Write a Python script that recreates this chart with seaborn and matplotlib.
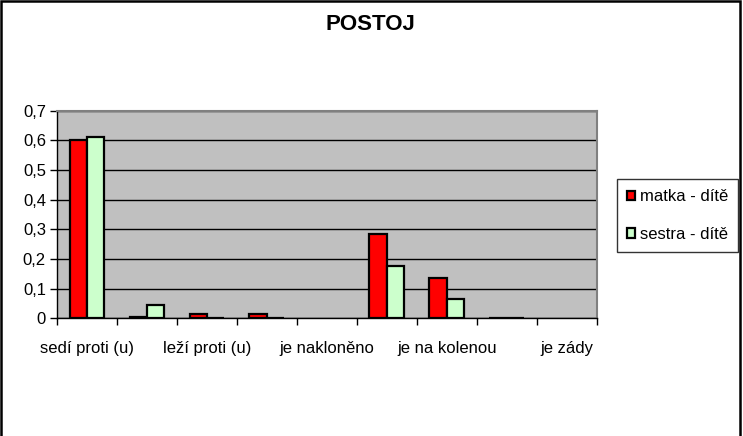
import pandas as pd
import matplotlib
matplotlib.use("Agg")
import matplotlib.pyplot as plt
from matplotlib.patches import Rectangle, Patch
from matplotlib.ticker import FuncFormatter, MultipleLocator
import seaborn as sns

# Data
categories = ["sedí proti (u)", "", "leží proti (u)", "", "je nakloněno", "",
              "je na kolenou", "", "je zády"]
matka = [0.60, 0.005, 0.015, 0.015, 0.0, 0.285, 0.135, 0.002, 0.0]
sestra = [0.61, 0.046, 0.001, 0.001, 0.0, 0.175, 0.066, 0.002, 0.0]
series_names = ["matka - dítě", "sestra - dítě"]
colors = ["#FF0000", "#CCFFCC"]

# Long format table for seaborn
df = pd.DataFrame({
    "pos": list(range(len(categories))) * 2,
    "value": matka + sestra,
    "series": [series_names[0]] * len(matka) + [series_names[1]] * len(sestra),
})

sns.set_style("white")
plt.rcParams["font.family"] = ["Liberation Sans", "DejaVu Sans"]
plt.rcParams["text.color"] = "black"
plt.rcParams["xtick.color"] = "black"
plt.rcParams["ytick.color"] = "black"

fig = plt.figure(figsize=(7.43, 4.36), dpi=100)
ax = fig.add_axes([57 / 743, 1 - 318.3 / 436, (596.7 - 57) / 743, (318.3 - 110.7) / 436])

sns.barplot(data=df, x="pos", y="value", hue="series", hue_order=series_names,
            palette=colors, width=0.58, edgecolor="black", linewidth=1.6,
            saturation=1, ax=ax, legend=False)

# zero bars draw nothing in the original
for p in ax.patches:
    if p.get_height() == 0:
        p.set_linewidth(0)

ax.set_facecolor("#C0C0C0")
ax.set_xlim(-0.5, len(categories) - 0.5)
ax.set_ylim(0, 0.7)
ax.yaxis.set_major_locator(MultipleLocator(0.1))
ax.yaxis.set_major_formatter(FuncFormatter(lambda v, _: "0" if abs(v) < 1e-9 else f"{v:.1f}".replace(".", ",")))
ax.grid(axis="y", color="black", linewidth=1)
ax.set_axisbelow(True)

# category labels at centres, tick marks at the boundaries
ax.set_xticks(range(len(categories)))
ax.set_xticklabels(categories)
ax.tick_params(axis="x", length=0, pad=16, labelsize=12, labelcolor="black")
ax.set_xticks([i - 0.5 for i in range(len(categories) + 1)], minor=True)
ax.tick_params(axis="x", which="minor", length=5, width=1, color="black", direction="out", bottom=True)
ax.tick_params(axis="y", length=5, width=1, color="black", direction="out", left=True, pad=3,
               labelsize=12, labelcolor="black")
ax.set_xlabel("")
ax.set_ylabel("")

for side in ["left", "bottom"]:
    ax.spines[side].set_color("black")
    ax.spines[side].set_linewidth(1)
for side in ["top", "right"]:
    ax.spines[side].set_color("#808080")
    ax.spines[side].set_linewidth(1.5)

handles = [Patch(facecolor=c, edgecolor="black", linewidth=1.6) for c in colors]
leg = fig.legend(handles, series_names, loc="center left",
                 bbox_to_anchor=(617 / 743, 1 - 249 / 436, (738 - 617) / 743, (249 - 182) / 436),
                 mode="expand", frameon=True, fancybox=False, fontsize=12,
                 handlelength=0.5, handleheight=0.5, handletextpad=0.3,
                 labelspacing=1.35, borderpad=0.6, borderaxespad=0, labelcolor="black")
leg.get_frame().set_edgecolor("black")
leg.get_frame().set_linewidth(1)

fig.suptitle("POSTOJ", x=370 / 743, y=1 - 24 / 436, va="center", fontsize=16,
             fontweight="bold", color="black")

# outer chart border
fig.patches.append(Rectangle((1 / 743, -0.05), 739 / 743, 1.05 - 1 / 436,
                             transform=fig.transFigure, fill=False,
                             edgecolor="black", linewidth=1.8))

fig.savefig("out.png", dpi=100, facecolor="white")
